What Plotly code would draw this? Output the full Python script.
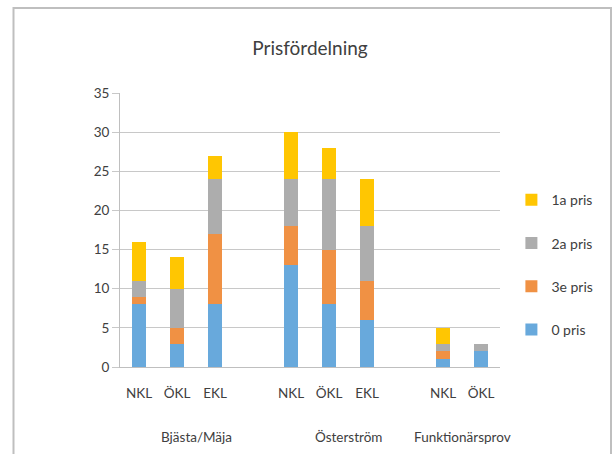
import plotly.graph_objects as go

groups = ["Bjästa/Mäja", "Österström", "Funktionärsprov"]
classes = ["NKL", "ÖKL", "EKL", "", "NKL", "ÖKL", "EKL", "", "NKL", "ÖKL"]
group_spans = [(0, 3), (4, 7), (8, 9)]

pris0 = [8, 3, 8, None, 13, 8, 6, None, 1, 2]
pris3e = [1, 2, 9, None, 5, 7, 5, None, 1, 0]
pris2a = [2, 5, 7, None, 6, 9, 7, None, 1, 1]
pris1a = [5, 4, 3, None, 6, 4, 6, None, 2, 0]

series = [
    ("0 pris", pris0, "#68A9DC"),
    ("3e pris", pris3e, "#F09144"),
    ("2a pris", pris2a, "#ADADAD"),
    ("1a pris", pris1a, "#FFC602"),
]

x = list(range(len(classes)))
fig = go.Figure()
for i, (name, vals, col) in enumerate(series):
    fig.add_trace(go.Bar(
        x=x, y=vals, name=name, marker=dict(color=col, line=dict(width=0)),
        width=0.39, legendgroup=name, legendrank=10 - i,
    ))

font = "Lato, Carlito, 'Open Sans', sans-serif"
fig.update_layout(
    barmode="stack",
    width=613, height=454,
    margin=dict(l=120, r=113, t=93, b=87),
    paper_bgcolor="white", plot_bgcolor="white",
    font=dict(family=font, size=13, color="#404040"),
    title=dict(text="Prisfördelning", x=0.5, xref="paper", xanchor="center",
               y=(454 - 48) / 454, yanchor="middle",
               font=dict(size=19, color="#404040", family=font)),
    showlegend=True,
    legend=dict(x=1.03, y=0.667, xanchor="left", yanchor="top",
                traceorder="grouped", tracegroupgap=22,
                itemwidth=30, font=dict(size=14, color="#404040")),
)
fig.update_xaxes(
    range=[-0.5, 9.5], tickmode="array", tickvals=x, ticktext=classes,
    showgrid=False, showline=True, linecolor="#BFBFBF", linewidth=1,
    ticks="", ticklabelstandoff=14, zeroline=False,
    tickfont=dict(size=13.5, color="#404040"),
)
fig.update_yaxes(
    range=[0, 35], dtick=5, showgrid=True, gridcolor="#C8C8C8", gridwidth=1.3,
    showline=True, linecolor="#BFBFBF", linewidth=1, ticks="outside",
    ticklen=7, tickcolor="#C8C8C8", zeroline=False,
    tickfont=dict(size=13.5, color="#404040"),
)

for g, (a, b) in zip(groups, group_spans):
    fig.add_annotation(x=(a + b) / 2, y=(367 - 437) / 274, xref="x", yref="paper",
                       text=g, showarrow=False, font=dict(size=13.5, color="#404040"),
                       xanchor="center", yanchor="middle")

# chart frame
fig.add_shape(type="rect", xref="paper", yref="paper",
              x0=(13.5 - 120) / 380, x1=(611 - 120) / 380,
              y0=(367 - 480) / 274, y1=(367 - 8) / 274,
              line=dict(color="#BFBFBF", width=2), fillcolor="rgba(0,0,0,0)",
              layer="below")

fig.write_html("out.html", config={"displayModeBar": False},
               post_script="document.body.style.margin='0';document.body.style.overflow='hidden';")
